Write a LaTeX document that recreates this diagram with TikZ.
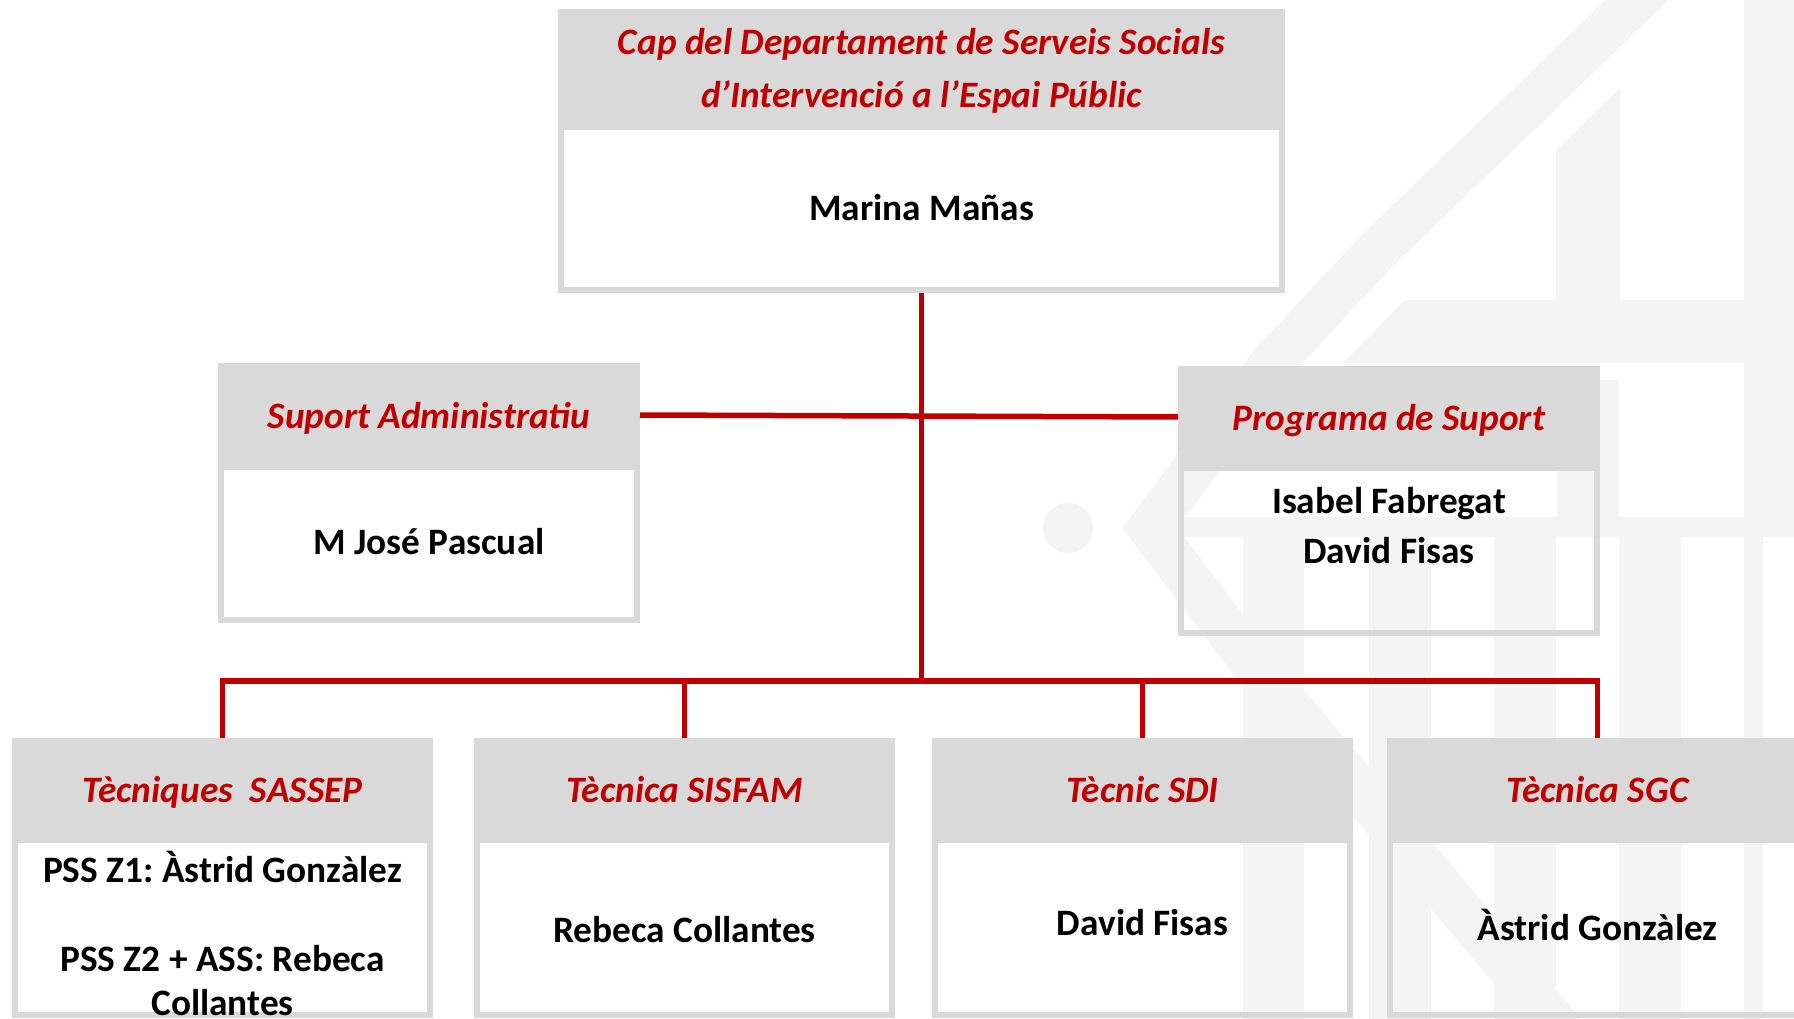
\documentclass[tikz,border=0pt]{standalone}
\usepackage{fontspec}
\setmainfont{Carlito}
\frenchspacing
\definecolor{boxgray}{RGB}{217,217,217}
\definecolor{orgred}{RGB}{192,0,0}
\definecolor{wm}{RGB}{244,244,244}
\begin{document}
\begin{tikzpicture}[x=1pt,y=-1pt,
  hdr/.style={fill=boxgray, inner sep=0pt, outer sep=0pt, anchor=north west},
  bodybox/.style={draw=boxgray, line width=6pt, inner sep=0pt, outer sep=0pt, anchor=north west},
  ttl/.style={text=orgred, font=\fontsize{37.3}{44}\selectfont\bfseries\itshape, inner sep=0pt, anchor=base},
  nm/.style={text=black, font=\fontsize{37.3}{44}\selectfont\bfseries, inner sep=0pt, anchor=base},
  link/.style={draw=orgred, line width=5.5pt},
]
\useasboundingbox (0,0) rectangle (1794,1019);
\fill[white] (0,0) rectangle (1794,1019);

% watermark
\begin{scope}[wm]
  \draw[line width=44pt] (1668,-30) -- (1378,250) -- (1272,363) -- (1150,528) -- (1250,660) -- (1570,1040);
  \fill (1068,528) circle (25);
  \fill (1556,150) -- (1620,88) -- (1620,300) -- (1556,300) -- cycle;
  \fill (1343,363) -- (1405,300) -- (1744,300) -- (1744,363) -- cycle;
  \fill (1744,0) rectangle (1763,1019);
  \fill (1763,0) rectangle (1794,520);
  \fill (1184,517) rectangle (1794,537);
  \fill (1557,380) rectangle (1619,517);
  \fill (1243,537) rectangle (1304,1019);
  \fill (1369,537) rectangle (1431,1019);
  \fill (1494,537) rectangle (1556,1019);
  \fill (1619,537) rectangle (1681,1019);
\end{scope}

% bodies
\node[bodybox, minimum width=721pt, minimum height=163pt] (bTop) at (561,127) {};
\node[bodybox, minimum width=416pt, minimum height=153pt] (bAdm) at (221,467) {};
\node[bodybox, minimum width=416pt, minimum height=165pt] (bProg) at (1181,468) {};
\node[bodybox, minimum width=415pt, minimum height=175pt] (bSAS) at (15,840) {};
\node[bodybox, minimum width=415pt, minimum height=175pt] (bSIS) at (477,840) {};
\node[bodybox, minimum width=415pt, minimum height=175pt] (bSDI) at (935,840) {};
\node[bodybox, minimum width=415pt, minimum height=175pt] (bSGC) at (1390,840) {};

% headers
\node[hdr, minimum width=727pt, minimum height=117pt] (hTop) at (558,9) {};
\node[hdr, minimum width=422pt, minimum height=104pt] (hAdm) at (218,363) {};
\node[hdr, minimum width=422pt, minimum height=102pt] (hProg) at (1178,366) {};
\node[hdr, minimum width=421pt, minimum height=102pt] (hSAS) at (12,738) {};
\node[hdr, minimum width=421pt, minimum height=102pt] (hSIS) at (474,738) {};
\node[hdr, minimum width=421pt, minimum height=102pt] (hSDI) at (932,738) {};
\node[hdr, minimum width=421pt, minimum height=102pt] (hSGC) at (1387,738) {};

% titles
\node[ttl, anchor=north, align=center, font=\fontsize{37.3}{53}\selectfont\bfseries\itshape] (tTop) at (921.5,18)
  {\rule{0pt}{36pt}Cap del Departament de Serveis Socials\\d’Intervenció a l’Espai Públic};
\node[ttl] (tAdm) at (429,428) {Suport Administratiu};
\node[ttl] (tProg) at (1389,430) {Programa de Suport};
\node[ttl] (tSAS) at (222.5,802) {Tècniques\ \ SASSEP};
\node[ttl] (tSIS) at (684.5,802) {Tècnica SISFAM};
\node[ttl] (tSDI) at (1142.5,802) {Tècnic SDI};
\node[ttl] (tSGC) at (1597.5,802) {Tècnica SGC};

% names
\node[nm] (nTop) at (921.5,221) {Marina Mañas};
\node[nm] (nAdm) at (429,554) {M José Pascual};
\node[nm, anchor=north, align=center, font=\fontsize{37.3}{50}\selectfont\bfseries] (nProg) at (1389,477)
  {\rule{0pt}{36pt}Isabel Fabregat\\David Fisas};
\node[nm, anchor=north, align=center, font=\fontsize{37.3}{44.5}\selectfont\bfseries] (nSAS) at (222.5,846)
  {\rule{0pt}{36pt}PSS Z1: Àstrid Gonzàlez\\ \\PSS Z2 + ASS: Rebeca\\Collantes};
\node[nm] (nSIS) at (684.5,942) {Rebeca Collantes};
\node[nm] (nSDI) at (1142.5,935) {David Fisas};
\node[nm] (nSGC) at (1597.5,940) {Àstrid Gonzàlez};

% connectors
\coordinate (busC) at (921.5,681);
\draw[link, shorten <=3pt] (bTop.south) -- (busC);
\draw[link] (hAdm.east) -- (hProg.west);
\draw[link] (hSAS.north) |- (busC) -| (hSGC.north);
\draw[link] (hSIS.north) -- (hSIS.north |- busC);
\draw[link] (hSDI.north) -- (hSDI.north |- busC);
\end{tikzpicture}
\end{document}
